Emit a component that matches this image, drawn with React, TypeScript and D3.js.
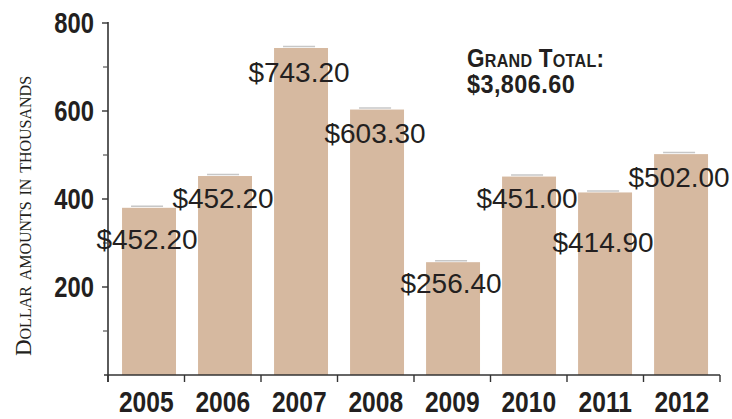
import React from "react";
import * as d3 from "d3";

const years = ["2005", "2006", "2007", "2008", "2009", "2010", "2011", "2012"];
const values = [380, 452.2, 743.2, 603.3, 256.4, 451.0, 414.9, 502.0];
const valueLabels = ["$452.20", "$452.20", "$743.20", "$603.30", "$256.40", "$451.00", "$414.90", "$502.00"];
const majorTicks = [200, 400, 600, 800];
const minorTicks = [100, 300, 500, 700];
const axisTitle = "Dollar amounts in thousands";
const totalTitle = "Grand Total:";
const totalValue = "$3,806.60";

// layout constants
const W = 732;
const H = 419;
const X0 = 108;
const X1 = 720;
const Y0 = 375;
const Y1 = 23;
const labelDrop = [41, 32, 34, 33, 31, 31, 60, 33];

const BAR = "#d6b9a0";
const INK = "#231f20";
const SANS = "'Liberation Sans', Arial, sans-serif";
const NARROW_SCALE = 0.82;

export default function App() {
  const y = d3.scaleLinear().domain([0, 800]).range([Y0, Y1]);
  const x = d3
    .scaleBand<string>()
    .domain(years)
    .range([X0, X1])
    .paddingInner(0.29)
    .paddingOuter(0.171)
    .align(0.54);
  const xAxis = d3.scaleBand<string>().domain(years).range([X0, X1]);
  const bw = x.bandwidth();
  const tickXs = [...years.map((d) => xAxis(d) as number), X1];

  return (
    <svg
      width={W}
      height={H}
      style={{ position: "absolute", left: 0, top: 0, background: "#fff" }}
    >
      {/* bars */}
      {years.map((yr, i) => {
        const bx = x(yr) as number;
        const top = y(values[i]);
        return (
          <g key={yr}>
            <line
              x1={bx + 9}
              x2={bx + 41}
              y1={top - 1.5}
              y2={top - 1.5}
              stroke="#9a9a9a"
              strokeWidth={1.5}
              opacity={0.55}
            />
            <rect x={bx} y={top} width={bw} height={Y0 - top} fill={BAR} />
          </g>
        );
      })}

      {/* y axis */}
      <line x1={X0} x2={X0} y1={y(800) - 1} y2={Y0 + 7} stroke="#333" strokeWidth={1.6} />
      {majorTicks.map((t) => (
        <line key={"M" + t} x1={X0 - 6} x2={X0} y1={y(t)} y2={y(t)} stroke="#333" strokeWidth={1.4} />
      ))}
      {minorTicks.map((t) => (
        <line key={"m" + t} x1={X0 - 5} x2={X0} y1={y(t)} y2={y(t)} stroke="#555" strokeWidth={1.2} />
      ))}
      {majorTicks.map((t) => (
        <text
          key={"L" + t}
          transform={`translate(${X0 - 14}, ${y(t) + 10}) scale(${NARROW_SCALE}, 1)`}
          textAnchor="end"
          fontFamily={SANS}
          fontWeight="bold"
          fontSize={29}
          fill={INK}
        >
          {t}
        </text>
      ))}

      {/* x axis */}
      <line x1={X0 - 4} x2={X1} y1={Y0} y2={Y0} stroke="#333" strokeWidth={1.6} />
      {tickXs.map((tx, i) => (
        <line key={"xt" + i} x1={tx} x2={tx} y1={Y0} y2={Y0 + 7} stroke="#333" strokeWidth={1.4} />
      ))}
      {years.map((yr) => (
        <text
          key={"yl" + yr}
          transform={`translate(${(xAxis(yr) as number) + xAxis.bandwidth() / 2}, 412) scale(${NARROW_SCALE}, 1)`}
          textAnchor="middle"
          fontFamily={SANS}
          fontWeight="bold"
          fontSize={30}
          fill={INK}
        >
          {yr}
        </text>
      ))}

      {/* value labels */}
      {years.map((yr, i) => (
        <text
          key={"v" + yr}
          x={(x(yr) as number) + bw / 2 - 2}
          y={y(values[i]) + labelDrop[i]}
          textAnchor="middle"
          fontFamily={SANS}
          fontSize={28}
          fill={INK}
        >
          {valueLabels[i]}
        </text>
      ))}

      {/* axis title */}
      <text
        transform={`translate(31, 216) rotate(-90)`}
        textAnchor="middle"
        fontFamily="'Liberation Serif', 'Times New Roman', serif"
        fontSize={23}
        fill={INK}
        style={{ fontVariant: "small-caps" }}
      >
        {axisTitle}
      </text>

      {/* grand total */}
      <text
        transform={`translate(467, 67) scale(0.9, 1)`}
        fontFamily={SANS}
        fontWeight="bold"
        fontSize={25}
        letterSpacing={0.3}
        fill={INK}
        style={{ fontVariant: "small-caps" }}
      >
        {totalTitle}
      </text>
      <text
        transform={`translate(467, 93) scale(0.9, 1)`}
        fontFamily={SANS}
        fontWeight="bold"
        fontSize={26}
        letterSpacing={0.5}
        fill={INK}
      >
        {totalValue}
      </text>
    </svg>
  );
}
